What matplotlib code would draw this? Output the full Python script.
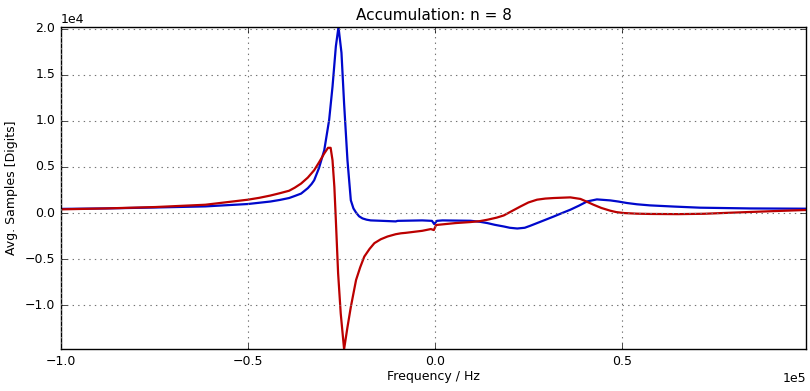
import matplotlib
matplotlib.use("Agg")
import matplotlib.pyplot as plt

# Frequency (Hz) and averaged sample values
blue_freq = [-100000, -88000, -75000, -61400, -50000, -44000, -41500, -39000, -37500,
             -35800, -34000, -33000, -32300, -31000, -29600, -28300, -27400, -26500,
             -25800, -25000, -24300, -23400, -22500, -21800, -21100, -20300, -19400,
             -18300, -17200, -14000, -10500, -10000, -3400, -800, -200, 500,
             2000, 9500, 12000, 14000, 16000, 18400, 20000, 22000, 24000, 25500,
             28500, 31800, 34000, 36200, 38500, 40700, 43300, 46900, 49000, 51300,
             54000, 57500, 64000, 70900, 84200, 99200]
blue_vals = [450, 500, 600, 720, 980, 1250, 1420, 1630, 1850,
             2110, 2700, 3150, 3560, 4900, 6830, 10100, 13700, 18100,
             20200, 17400, 11900, 5740, 1380, 500, 50, -350, -580,
             -720, -800, -850, -910, -850, -800, -850, -1200, -850,
             -800, -840, -950, -1090, -1280, -1460, -1600, -1680, -1600, -1380,
             -900, -370, 0, 360, 800, 1260, 1480, 1370, 1250, 1090,
             950, 830, 700, 580, 500, 470]

red_freq = [-100000, -88000, -74800, -61400, -50000, -47000, -44000, -41500, -39000,
            -37500, -35800, -34000, -32300, -31000, -29600, -28600, -27900, -27400,
            -26900, -26500, -25900, -25200, -24300, -23400, -22500, -21100, -20000,
            -18900, -17500, -16200, -14500, -12700, -10500, -9100, -7800, -3400,
            -1100, -300, 300, 5500, 9500, 12000, 14000, 16500, 18400, 20500, 22900,
            25000, 27300, 29500, 31800, 36200, 38900, 40500, 42400, 44500, 46900,
            48500, 50500, 54000, 57500, 65000, 72000, 80000, 90000, 99200]
red_vals = [400, 500, 650, 900, 1450, 1650, 1900, 2150, 2420,
            2750, 3200, 3850, 4650, 5500, 6470, 7080, 7080, 5740,
            2830, -800, -6540, -10900, -14780, -12400, -10200, -7270, -5900,
            -4730, -3900, -3270, -2850, -2550, -2300, -2200, -2150, -1930,
            -1740, -1850, -1300, -1090, -980, -880, -730, -500, -260, 200, 720,
            1150, 1450, 1570, 1630, 1700, 1530, 1250, 900, 550, 250,
            100, 0, -70, -100, -120, -80, 50, 200, 330]

title = "Accumulation: n = 8"
xlabel = "Frequency / Hz"
ylabel = "Avg. Samples [Digits]"

plt.style.use("classic")
plt.rcParams["font.family"] = ["DejaVu Sans"]
plt.rcParams["font.size"] = 9

fig = plt.figure(figsize=(8.1, 3.91), dpi=100, facecolor="white")
ax = fig.add_axes([0.0753, 0.107, 0.9197, 0.824])

ax.plot(blue_freq, blue_vals, color="#0008cc", linewidth=1.6)
ax.plot(red_freq, red_vals, color="#bb0000", linewidth=1.6)

ax.set_xlim(-100000, 99200)
ax.set_ylim(min(red_vals), max(blue_vals))
ax.set_xticks([-100000, -50000, 0, 50000])
ax.set_yticks([-10000, -5000, 0, 5000, 10000, 15000, 20000])
ax.ticklabel_format(style="sci", axis="both", scilimits=(0, 0))
ax.grid(True, linestyle=":", color="0.45", linewidth=0.8)

ax.set_title(title, fontsize=11)
ax.set_xlabel(xlabel, fontsize=9, labelpad=2)
ax.set_ylabel(ylabel, fontsize=9)

fig.savefig("out.png", dpi=100, facecolor="white")
